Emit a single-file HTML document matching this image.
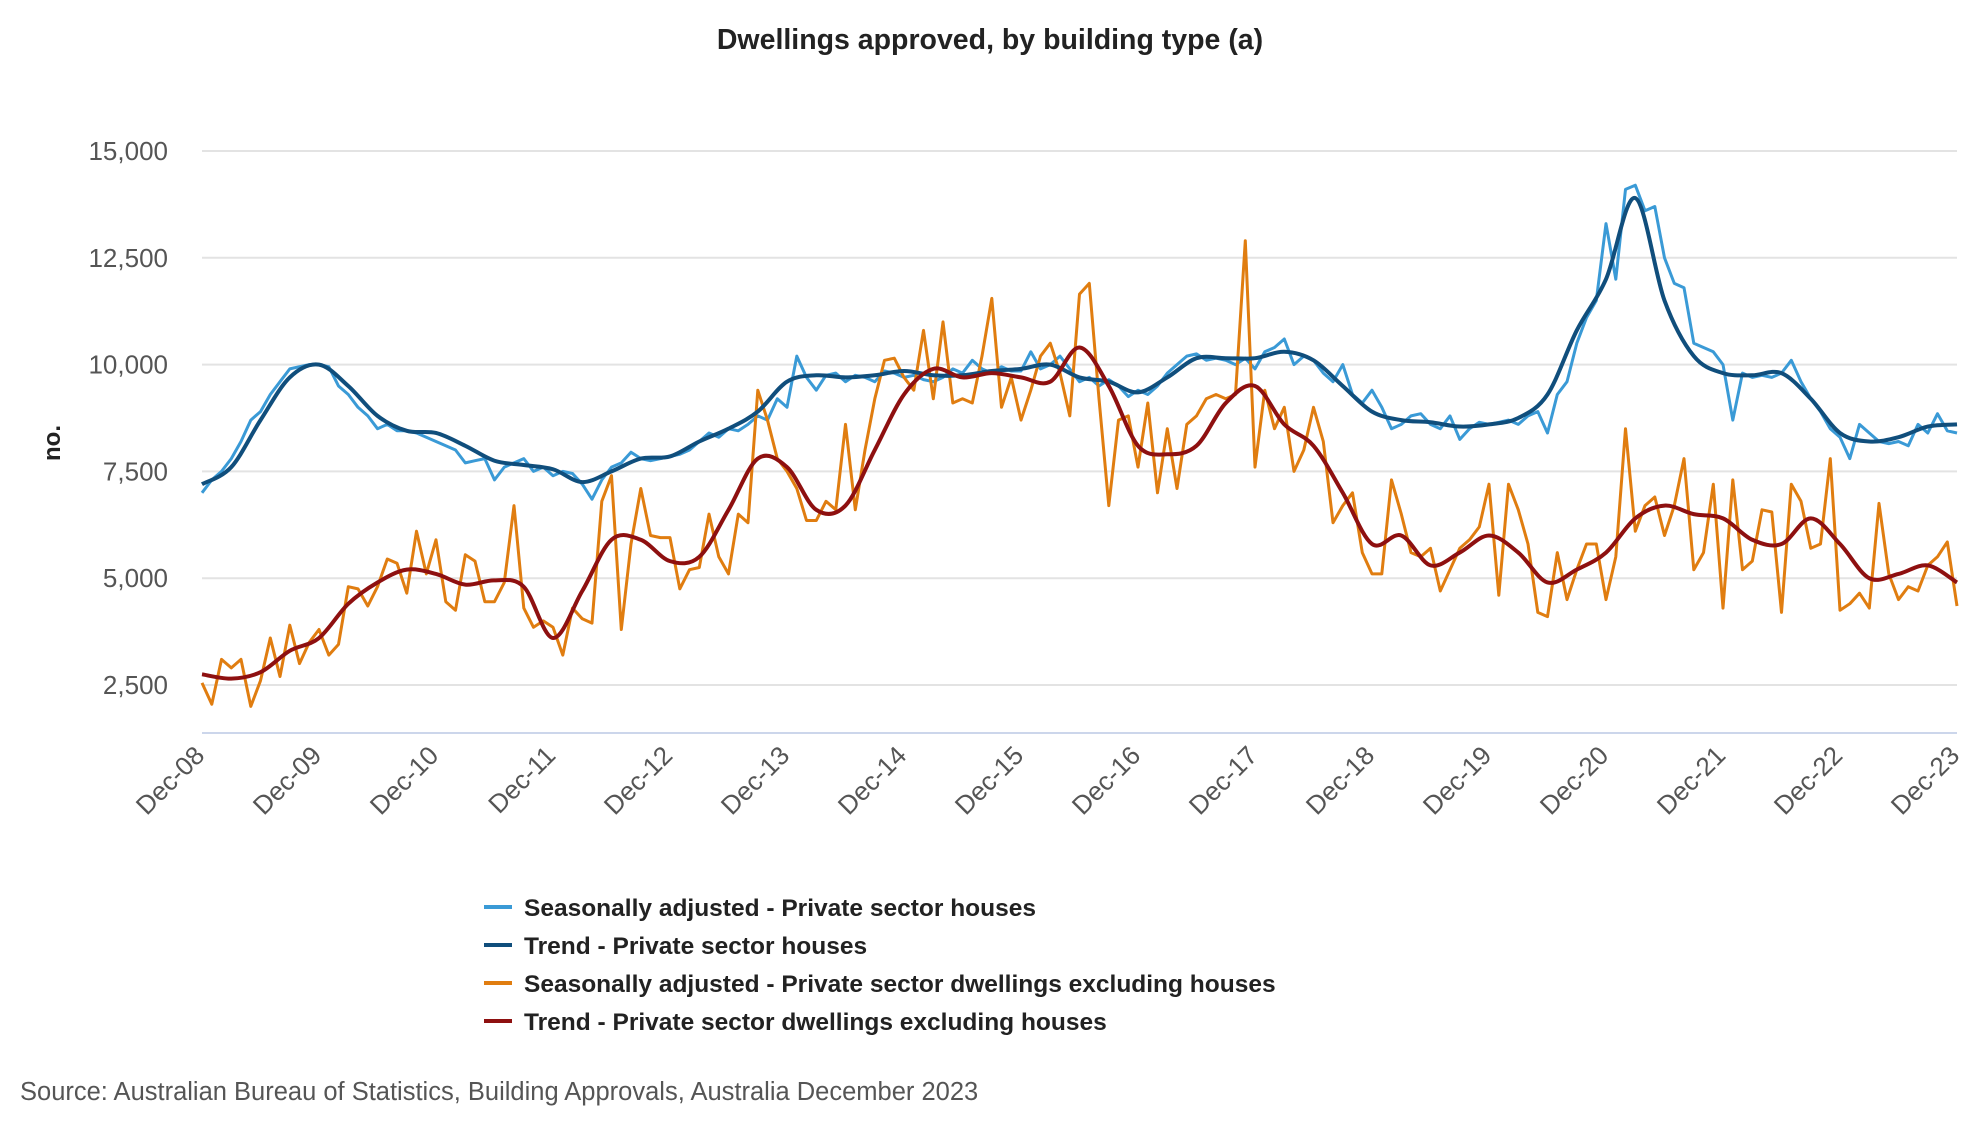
<!DOCTYPE html>
<html><head><meta charset="utf-8"><style>
body{margin:0;background:#fff;width:1980px;height:1140px;overflow:hidden;font-family:"Liberation Sans",sans-serif}
</style></head><body>
<svg id="chart" width="1980" height="1140" xmlns="http://www.w3.org/2000/svg">
<text x="990" y="49" text-anchor="middle" font-size="28.5" font-weight="bold" fill="#222">Dwellings approved, by building type (a)</text>
<text transform="translate(60,443) rotate(-90)" text-anchor="middle" font-size="24" font-weight="bold" fill="#222">no.</text>
<g id="grid"></g><g id="series"></g><g id="xlabels"></g>
<g font-size="24.5" font-weight="bold" fill="#222">
<g><line x1="484" y1="907" x2="512" y2="907" stroke="#3a9ad6" stroke-width="4"/><text x="524" y="916">Seasonally adjusted - Private sector houses</text></g>
<g><line x1="484" y1="945" x2="512" y2="945" stroke="#104e7c" stroke-width="4"/><text x="524" y="954">Trend - Private sector houses</text></g>
<g><line x1="484" y1="983" x2="512" y2="983" stroke="#e07d10" stroke-width="4"/><text x="524" y="992">Seasonally adjusted - Private sector dwellings excluding houses</text></g>
<g><line x1="484" y1="1021" x2="512" y2="1021" stroke="#8e1010" stroke-width="4"/><text x="524" y="1030">Trend - Private sector dwellings excluding houses</text></g>
</g>
<text x="20" y="1100" font-size="25.5" fill="#555">Source: Australian Bureau of Statistics, Building Approvals, Australia December 2023</text>
</svg>
<script>
const yTicks=[2500,5000,7500,10000,12500,15000];
const yTickLabels=["2,500","5,000","7,500","10,000","12,500","15,000"];
const xLabels=["Dec-08","Dec-09","Dec-10","Dec-11","Dec-12","Dec-13","Dec-14","Dec-15","Dec-16","Dec-17","Dec-18","Dec-19","Dec-20","Dec-21","Dec-22","Dec-23"];
const saHouses=[7000,
7300,7500,7800,8200,8700,8900,9300,9600,9900,9950,10000,10000,
9950,9500,9300,9000,8800,8500,8600,8450,8450,8400,8300,8200,
8100,8000,7700,7750,7800,7300,7600,7700,7800,7500,7600,7400,
7500,7450,7200,6850,7300,7600,7700,7950,7800,7750,7800,7850,
7900,8000,8200,8400,8300,8500,8450,8600,8800,8700,9200,9000,
10200,9700,9400,9750,9800,9600,9750,9700,9600,9850,9800,9700,
9750,9650,9600,9700,9900,9800,10100,9900,9800,9950,9850,9850,
10300,9900,10000,10200,9900,9600,9700,9500,9650,9500,9250,9400,
9300,9500,9800,10000,10200,10250,10100,10150,10100,10000,10150,9900,
10300,10400,10600,10000,10200,10100,9800,9600,10000,9300,9100,9400,
9000,8500,8600,8800,8850,8600,8500,8800,8250,8500,8650,8600,
8650,8700,8600,8800,8900,8400,9300,9600,10500,11100,11500,13300,
12000,14100,14200,13600,13700,12500,11900,11800,10500,10400,10300,10000,
8700,9800,9700,9750,9700,9800,10100,9600,9200,8900,8500,8300,
7800,8600,8400,8200,8150,8200,8100,8600,8400,8850,8450,8400];
const trendHousesQ=[7200,7600,8700,9700,10000,9500,8800,8450,8400,8100,7750,7650,7550,7250,7500,7800,7850,8200,8500,8900,9600,9750,9700,9750,9850,9750,9750,9850,9900,10000,9700,9600,9350,9700,10150,10150,10150,10300,10100,9500,8900,8700,8650,8550,8600,8750,9300,10800,12000,13900,11500,10200,9800,9750,9800,9200,8400,8200,8300,8550,8600];
const saDwellings=[2550,
2050,3100,2900,3100,2000,2600,3600,2700,3900,3000,3500,3800,
3200,3450,4800,4750,4350,4800,5450,5350,4650,6100,5100,5900,
4450,4250,5550,5400,4450,4450,4900,6700,4300,3850,4000,3850,
3200,4300,4050,3950,6800,7400,3800,5800,7100,6000,5950,5950,
4750,5200,5250,6500,5500,5100,6500,6300,9400,8700,7800,7500,
7100,6350,6350,6800,6600,8600,6600,8000,9200,10100,10150,9700,
9400,10800,9200,11000,9100,9200,9100,10200,11550,9000,9700,8700,
9400,10200,10500,9800,8800,11650,11900,9200,6700,8700,8800,7600,
9100,7000,8500,7100,8600,8800,9200,9300,9200,9300,12900,7600,
9400,8500,9000,7500,8000,9000,8200,6300,6700,7000,5600,5100,
5100,7300,6500,5600,5500,5700,4700,5200,5700,5900,6200,7200,
4600,7200,6600,5800,4200,4100,5600,4500,5200,5800,5800,4500,
5500,8500,6100,6700,6900,6000,6700,7800,5200,5600,7200,4300,
7300,5200,5400,6600,6550,4200,7200,6800,5700,5800,7800,4250,
4400,4650,4300,6750,5100,4500,4800,4700,5300,5500,5850,4350];
const trendDwellingsQ=[2750,2650,2800,3300,3600,4400,4900,5200,5100,4850,4950,4800,3600,4700,5900,5900,5400,5500,6600,7800,7600,6600,6700,8000,9300,9900,9700,9800,9700,9600,10400,9500,8100,7900,8100,9100,9500,8600,8100,7000,5800,6000,5300,5600,6000,5600,4900,5200,5600,6400,6700,6500,6400,5900,5800,6400,5800,5000,5100,5300,4900];

const NS="http://www.w3.org/2000/svg";
const X0=202,X1=1957,Y15=151,Y25=685,AXY=733;
function xs(m){return X0+(X1-X0)*m/180;}
function ys(v){return Y25+(v-2500)*(Y15-Y25)/12500;}
function mk(tag,attrs,parent){const e=document.createElementNS(NS,tag);for(const k in attrs)e.setAttribute(k,attrs[k]);parent.appendChild(e);return e;}
const grid=document.getElementById('grid');
yTicks.forEach((t,i)=>{
 const l=mk('line',{x1:X0,x2:X1,y1:ys(t),y2:ys(t),stroke:'#e3e3e3','stroke-width':2},grid);
 
 
 const tx=mk('text',{x:168,y:ys(t)+9,'text-anchor':'end','font-size':26,fill:'#555'},grid);
 tx.textContent=yTickLabels[i];
 
 
});
const ax=mk('line',{x1:X0,x2:X1,y1:AXY,y2:AXY,stroke:'#ccd6eb','stroke-width':2},grid);


const xl=document.getElementById('xlabels');
xLabels.forEach((s,i)=>{
 const x=xs(i*12);
 const t=mk('text',{transform:`translate(${x+4},${AXY+24}) rotate(-45)`,'text-anchor':'end','font-size':26,fill:'#555'},xl);
 t.textContent=s;
 
 
});
function linePath(vals,step){return vals.map((v,i)=>(i?'L':'M')+xs(i*step).toFixed(1)+','+ys(v).toFixed(1)).join('');}
function smoothPath(vals,step){
 const p=vals.map((v,i)=>[xs(i*step),ys(v)]);
 let d='M'+p[0][0]+','+p[0][1];
 for(let i=0;i<p.length-1;i++){
  const a=p[i-1]||p[i],b=p[i],c=p[i+1],e=p[i+2]||c;
  d+=`C${b[0]+(c[0]-a[0])/6},${b[1]+(c[1]-a[1])/6} ${c[0]-(e[0]-b[0])/6},${c[1]-(e[1]-b[1])/6} ${c[0]},${c[1]}`;
 }
 return d;
}
const sg=document.getElementById('series');
const s1=mk('path',{d:linePath(saHouses,1),fill:'none',stroke:'#3a9ad6','stroke-width':3,'stroke-linejoin':'round'},sg);


const s3=mk('path',{d:linePath(saDwellings,1),fill:'none',stroke:'#e07d10','stroke-width':3,'stroke-linejoin':'round'},sg);


const s2=mk('path',{d:smoothPath(trendHousesQ,3),fill:'none',stroke:'#104e7c','stroke-width':4},sg);


const s4=mk('path',{d:smoothPath(trendDwellingsQ,3),fill:'none',stroke:'#8e1010','stroke-width':4},sg);


</script>
</body></html>
